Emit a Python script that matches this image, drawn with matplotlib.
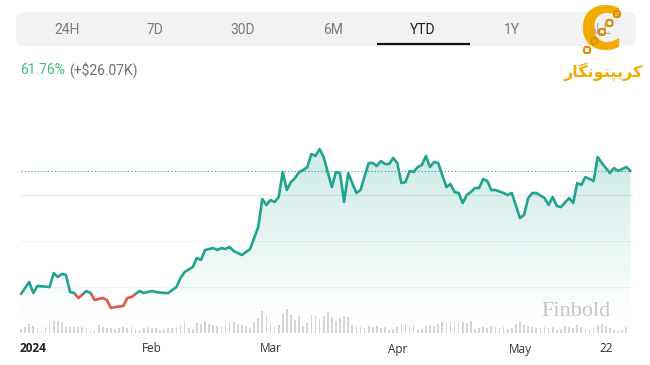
import numpy as np
import matplotlib
matplotlib.use("Agg")
import matplotlib.pyplot as plt
from matplotlib.patches import Rectangle, FancyBboxPatch
from matplotlib.colors import LinearSegmentedColormap
from matplotlib.transforms import blended_transform_factory

# ---------------- data ----------------
tabs = ["24H", "7D", "30D", "6M", "YTD", "1Y", "ALL"]
active_tab = "YTD"
change_pct = "61.76%"
change_abs = "(+$26.07K)"

# day of year (0 = Jan 1, 2024) and price in $K
days = [0, 2, 3, 4, 7, 8, 9, 10, 11, 12, 13, 14, 16, 17, 18, 20, 21, 22, 23, 25,
        26, 27, 29, 30, 32, 33, 35, 36, 38, 39, 40, 42, 43, 44, 45, 47, 48, 49, 50, 51,
        52, 54, 55, 56, 58, 59, 60, 61, 62, 63, 64, 65, 66, 67, 68, 69, 70, 71, 72, 73,
        74, 75, 76, 77, 78, 79, 80, 82, 83, 85, 86, 87, 88, 89, 90, 91, 92, 93, 94, 95,
        96, 97, 98, 99, 100, 101, 102, 104, 105, 106, 107, 108, 109, 110, 111, 112, 113,
        114, 115, 116, 118, 119, 120, 122, 123, 124, 125, 126, 128, 129, 130, 131, 132,
        134, 135, 136, 137, 138, 140, 141, 142, 144, 145, 146, 148, 149]
days = [d - 1 for d in days]
prices = [42.21, 44.75, 42.42, 43.91, 43.69, 46.66, 45.81, 46.45, 46.24, 42.63,
          42.42, 41.36, 42.85, 42.42, 40.94, 41.36, 40.94, 39.24, 39.45, 39.67,
          41.36, 41.57, 42.85, 42.42, 42.85, 42.63, 42.42, 42.42, 43.69, 45.60,
          46.87, 47.93, 49.84, 49.42, 51.54, 51.96, 51.54, 51.96, 51.75, 52.17,
          51.33, 50.48, 51.11, 51.75, 56.41, 62.35, 61.08, 62.14, 61.71, 62.77,
          68.07, 64.26, 65.95, 66.80, 68.07, 68.50, 69.13, 71.89, 71.47, 72.95,
          71.25, 68.07, 64.89, 68.07, 67.86, 61.71, 67.86, 63.62, 64.26, 69.98,
          69.98, 69.35, 70.41, 69.77, 69.77, 71.04, 69.98, 65.74, 65.95, 68.29,
          68.07, 69.13, 69.56, 71.47, 69.13, 70.19, 69.98, 64.89, 65.53, 63.83,
          63.62, 61.50, 63.20, 63.83, 64.68, 64.68, 66.59, 66.17, 64.26, 64.26,
          63.62, 63.20, 63.62, 58.32, 58.96, 62.56, 63.62, 63.62, 62.56, 61.08,
          62.77, 60.87, 60.65, 62.56, 61.50, 65.74, 65.32, 67.01, 66.17, 71.25,
          69.98, 67.86, 68.92, 68.29, 69.13, 68.29]

# daily volume (relative units), one bar per day starting Dec 31
volume = [4, 6, 9, 7, 5, 2, 6, 10, 12, 12, 11, 6, 6, 6, 6, 6, 5, 2, 3, 8,
          6, 5, 5, 4, 5, 6, 5, 6, 3, 3, 5, 6, 5, 5, 3, 4, 5,
          5, 6, 7, 12, 5, 4, 10, 9, 12, 9, 8, 7, 7, 7, 11, 11, 9, 8, 7, 5,
          11, 15, 22, 18, 10, 7, 8, 19, 24, 18, 13, 17, 7, 10, 18, 17, 14, 17, 21,
          16, 12, 15, 17, 16, 8, 7, 6, 5, 7, 6, 7, 5, 6, 3, 4, 6, 8, 9, 7, 8, 3,
          4, 7, 8, 7, 9, 11, 10, 11, 11, 10, 11, 10, 12, 4, 5, 6, 5, 7, 6, 5, 6,
          4, 5, 9, 11, 8, 7, 6, 5, 5, 6, 5, 6, 3, 4, 7, 6, 5, 8, 6, 4, 3, 5, 8,
          9, 7, 5, 3, 2, 3, 6]
vol_days = list(range(-1, -1 + len(volume)))

month_ticks = [31, 60, 91, 121, 142]
month_labels = ["Feb", "Mar", "Apr", "May", "22"]
year_label = "2024"
grid_levels = [63.2, 53.4, 43.7]
grid_colors = ["#e6e6e6", "#f1f1f1", "#f3f3f3"]

# ---------------- figure ----------------
W, H = 650, 365
fig = plt.figure(figsize=(W / 100, H / 100), dpi=100)
fig.patch.set_facecolor("white")

def fx(px):
    return px / W

def fy(py):
    return 1 - py / H

TEAL = "#22a38f"
RED = "#e5534b"

x0, x1 = -2, 149.5
left_px = 25.09 + 4.09 * x0
right_px = 25.09 + 4.09 * x1

# price axes: pixel y 120 .. 335
ax = fig.add_axes([fx(left_px), fy(335), fx(right_px - left_px), (335 - 120) / H])
ax.set_xlim(x0, x1)
ax.set_ylim(33.52, 79.10)
ax.axis("off")

# volume axes
axv = fig.add_axes([fx(left_px), fy(333), fx(right_px - left_px), 25 / H], zorder=0)
axv.set_xlim(x0, x1)
axv.set_ylim(0, 25)
axv.axis("off")
axv.bar(vol_days, volume, width=0.42, color="#d3d3d8", linewidth=0)

ax.set_zorder(1)
ax.patch.set_alpha(0)

# gridlines
for g, c in zip(grid_levels, grid_colors):
    ax.hlines(g, -1, 148.6, color=c, lw=0.8, zorder=0)

# gradient fill under line
base = 37.0
poly = ax.fill_between(days, prices, base, color="none", lw=0)
r, g_, b = matplotlib.colors.to_rgb(TEAL)
cmap = LinearSegmentedColormap.from_list("fade", [(r, g_, b, 0.0), (r, g_, b, 0.24)])
grad = np.linspace(0, 1, 256).reshape(-1, 1)
img = ax.imshow(grad, extent=[days[0], days[-1], base, 74.5], origin="lower",
                cmap=cmap, aspect="auto", zorder=1, interpolation="bilinear")
img.set_clip_path(poly.get_paths()[0], transform=ax.transData)
ax.set_xlim(x0, x1)
ax.set_ylim(33.52, 79.10)

# last price dotted line
ax.hlines(prices[-1], days[0], days[-1], color=TEAL, lw=0.8,
          linestyles=(0, (1, 2)), zorder=2)

# line, green above start price, red below
p0 = prices[0]
lg, = ax.plot(days, prices, color=TEAL, lw=1.9, zorder=3,
              solid_joinstyle="round", solid_capstyle="round")
lr, = ax.plot(days, prices, color=RED, lw=1.9, zorder=3,
              solid_joinstyle="round", solid_capstyle="round")
clip_up = Rectangle((x0 - 10, p0), 200, 100, transform=ax.transData)
clip_dn = Rectangle((x0 - 10, p0 - 100), 200, 100, transform=ax.transData)
lg.set_clip_path(clip_up)
lr.set_clip_path(clip_dn)

# x labels
tr = blended_transform_factory(ax.transData, fig.transFigure)
for d, lab in zip(month_ticks, month_labels):
    ax.text(d, fy(349), lab, transform=tr, ha="center", va="center",
            fontsize=8.5, color="#333333", family="Open Sans")
fig.text(fx(20), fy(349), year_label, ha="left", va="center", fontsize=8.5,
         fontweight="bold", color="#222222", family="Open Sans")

# Finbold watermark
fig.text(fx(610), fy(311), "Finbold", ha="right", va="center", fontsize=16,
         family="Liberation Serif", color="#c4c4c8")

# ---------------- overlay: tabs, change, logo ----------------
ov = fig.add_axes([0, 0, 1, 1], zorder=5)
ov.set_xlim(0, W)
ov.set_ylim(H, 0)
ov.axis("off")
ov.patch.set_alpha(0)

bar = FancyBboxPatch((16, 12), 620, 34, boxstyle="round,pad=0,rounding_size=9",
                     facecolor="#f2f2f4", edgecolor="none")
ov.add_patch(bar)
tab_x = [67, 155, 243, 333, 423, 512, 600]
for t, x in zip(tabs, tab_x):
    active = t == active_tab
    ov.text(x, 29.5, t, ha="center", va="center", fontsize=10,
            family="Roboto", color="#1e1e1e" if active else "#7a7a7e",
            alpha=1.0 if t != "ALL" else 0.6, zorder=1)
    if active:
        ov.plot([377, 470], [44, 44], color="#111111", lw=1.6, solid_capstyle="butt")

tp = ov.text(20, 70, change_pct, ha="left", va="center", fontsize=10,
             family="Roboto", color="#3dbd7d")
fig.canvas.draw()
bb = tp.get_window_extent()
ov.text(bb.x1 + 4, 70, change_abs, ha="left", va="center", fontsize=10,
        family="Roboto", color="#6e6e72")

# logo (golden C with chain and persian text)
gold = "#f2ab00"
ov.text(601, 33, "C", ha="center", va="center", fontsize=42, fontweight="bold",
        family="DejaVu Sans", color=gold, zorder=3)
for i in range(5):
    cx, cy = 587 + i * 7.5, 50 - i * 9
    ov.add_patch(FancyBboxPatch((cx - 3, cy - 3), 6, 6,
                                boxstyle="round,pad=0,rounding_size=2",
                                facecolor="none", edgecolor="#d99000", lw=1.5,
                                zorder=4))
persian = "\uFEAD\uFE8E\uFB95\uFEE7\uFEEE\uFE98\uFB59\uFBFE\uFEAE\uFB90"
ov.text(603, 72, persian, ha="center", va="center", fontsize=11.5,
        family=["DejaVu Sans"], color=gold, fontweight="bold")

fig.savefig("out.png", dpi=100)
